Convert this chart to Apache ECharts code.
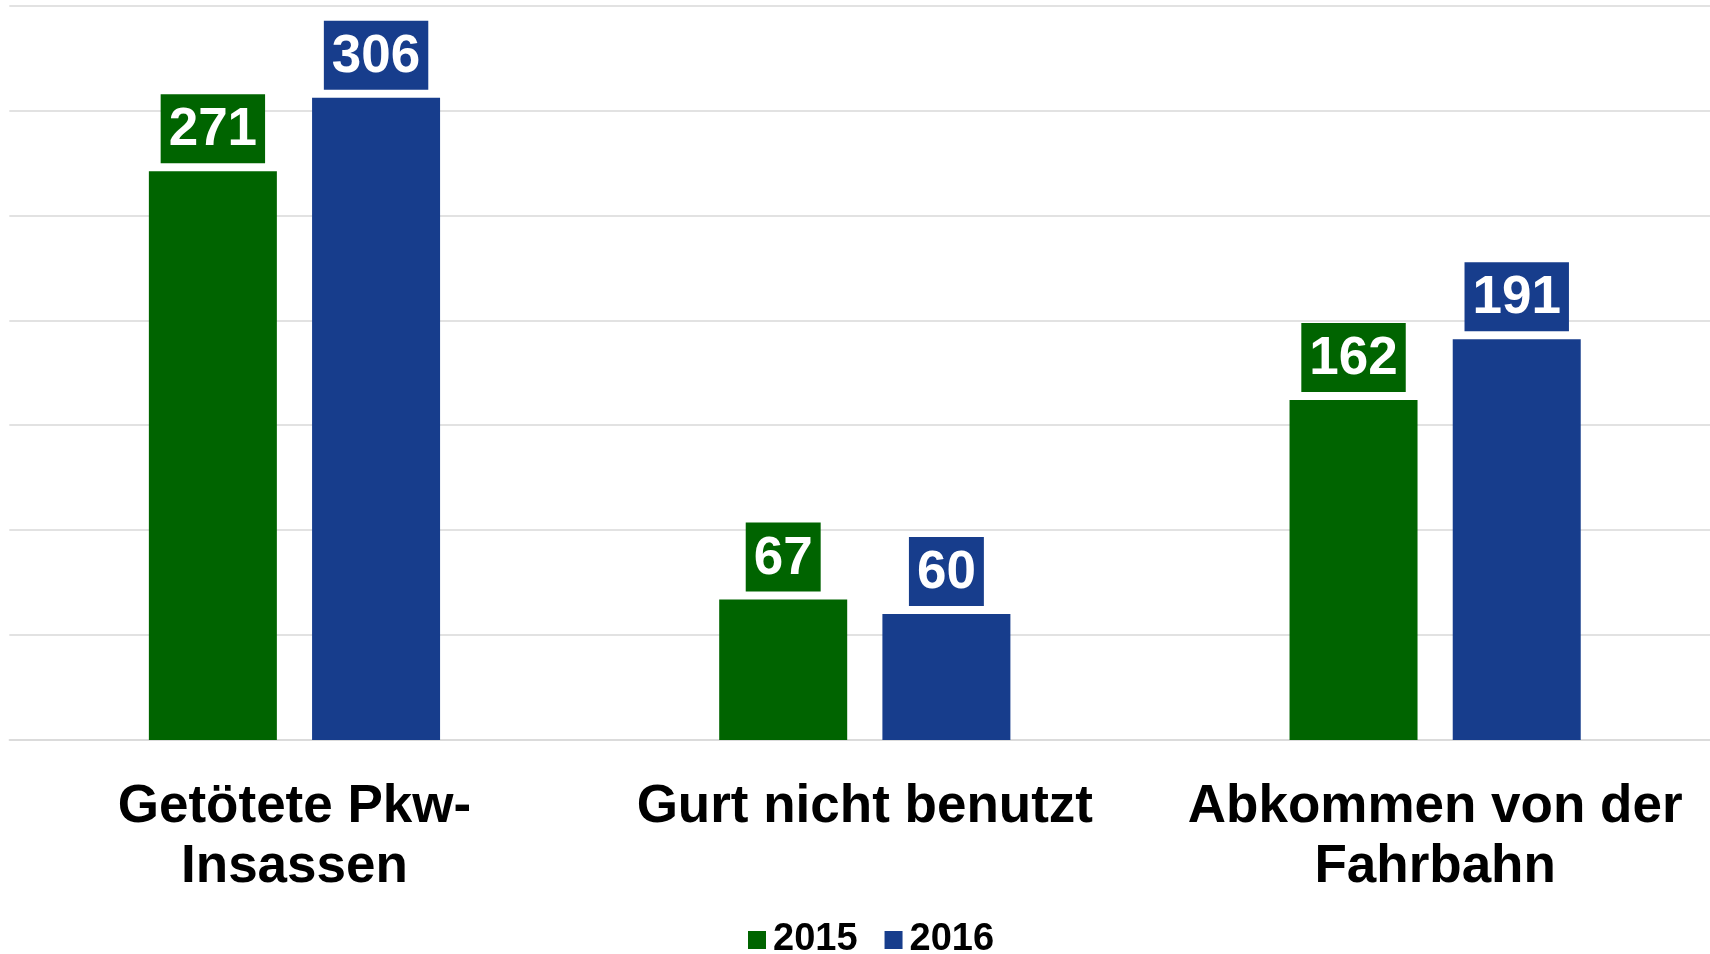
<!DOCTYPE html>
<html>
<head>
<meta charset="utf-8">
<style>
  html, body { margin: 0; padding: 0; background: #ffffff; }
  #chart { width: 1710px; height: 954px; }
</style>
<script src="https://cdn.jsdelivr.net/npm/echarts@6/dist/echarts.min.js"></script>
</head>
<body>
<div id="chart"></div>
<script>
const categories = ['Getötete Pkw-\nInsassen', 'Gurt nicht benutzt', 'Abkommen von der\nFahrbahn'];
const seriesNames = ['2015', '2016'];
const values2015 = [271, 67, 162];
const values2016 = [306, 60, 191];
const yTicks = { min: 0, max: 350, interval: 50 };

const FONT = "'Liberation Sans', Arial, sans-serif";
const GREEN = '#006400';
const BLUE = '#173D8C';

function labelStyle(color) {
  return {
    show: true,
    position: 'top',
    distance: 8,
    color: '#ffffff',
    backgroundColor: color,
    fontFamily: FONT,
    fontWeight: 'bold',
    fontSize: 53,
    lineHeight: 55,
    padding: [9, 8, 5, 8]
  };
}

const chart = echarts.init(document.getElementById('chart'), null, { renderer: 'canvas' });
chart.setOption({
  animation: false,
  backgroundColor: '#ffffff',
  grid: { left: 9.3, width: 1711, top: 5.5, bottom: 214, containLabel: false, outerBoundsMode: 'none' },
  legend: {
    data: seriesNames,
    left: 748,
    top: 921,
    padding: 0,
    itemWidth: 18,
    itemHeight: 18,
    itemGap: 27,
    icon: 'rect',
    textStyle: {
      fontFamily: FONT,
      fontWeight: 'bold',
      fontSize: 38,
      lineHeight: 38,
      color: '#000000',
      padding: [0, 0, 0, 2]
    }
  },
  xAxis: {
    type: 'category',
    data: categories,
    axisLine: { show: true, lineStyle: { color: '#d9d9d9', width: 1.5 } },
    axisTick: { show: false },
    axisLabel: {
      interval: 0,
      margin: 37,
      fontFamily: FONT,
      fontWeight: 'bold',
      fontSize: 53,
      lineHeight: 60,
      color: '#000000'
    }
  },
  yAxis: {
    type: 'value',
    min: yTicks.min,
    max: yTicks.max,
    interval: yTicks.interval,
    axisLabel: { show: false },
    axisLine: { show: false },
    axisTick: { show: false },
    splitLine: { show: true, lineStyle: { color: '#d9d9d9', width: 1.5 } }
  },
  series: [
    {
      name: seriesNames[0],
      type: 'bar',
      data: values2015,
      barWidth: 128,
      barGap: '27.5%',
      itemStyle: { color: GREEN },
      label: labelStyle(GREEN)
    },
    {
      name: seriesNames[1],
      type: 'bar',
      data: values2016,
      barWidth: 128,
      barGap: '27.5%',
      itemStyle: { color: BLUE },
      label: labelStyle(BLUE)
    }
  ]
});
</script>
</body>
</html>
